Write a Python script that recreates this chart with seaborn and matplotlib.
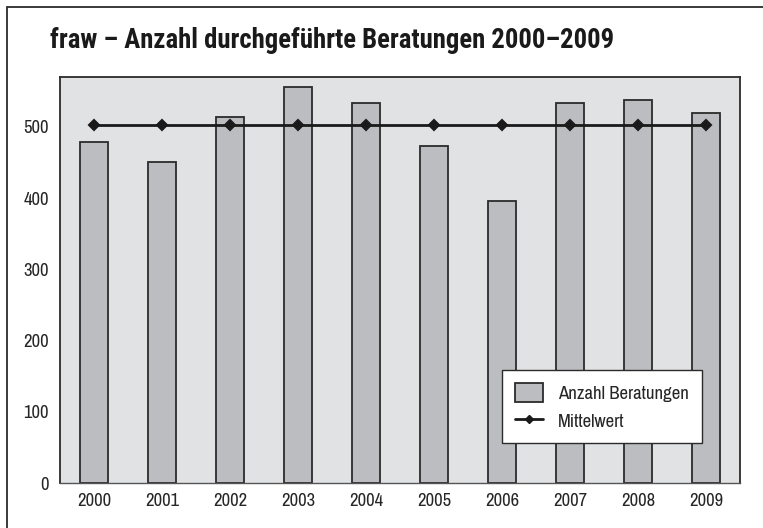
import matplotlib
matplotlib.use("Agg")
import matplotlib.pyplot as plt
import seaborn as sns
from matplotlib import font_manager
from matplotlib.patches import Patch, Rectangle
from matplotlib.lines import Line2D

# data
jahre = ["2000", "2001", "2002", "2003", "2004", "2005", "2006", "2007", "2008", "2009"]
beratungen = [479, 450, 514, 556, 533, 473, 396, 533, 538, 519]
mittelwert = [502, 502, 502, 502, 502, 502, 502, 502, 502, 502]

titel = "fraw \u2013 Anzahl durchgeführte Beratungen 2000\u20132009"

bar_color = "#bcbdc0"
bg_color = "#e1e2e4"
dark = "#2b2b2b"

# pick narrow fonts (a bold one for the title)
cands = ["Archivo Narrow", "Roboto Condensed", "PT Sans Narrow", "Fira Sans Condensed",
         "IBM Plex Sans Condensed", "Pragati Narrow", "Encode Sans Condensed",
         "Asap Condensed", "Liberation Sans"]
weights = {}
for f in font_manager.fontManager.ttflist:
    weights.setdefault(f.name, set()).add(int(f.weight) if str(f.weight).isdigit() else 400)
text_fam = next((c for c in cands if c in weights), "DejaVu Sans")
title_fam = next((c for c in cands if c in weights and max(weights[c]) >= 700), "DejaVu Sans")

sns.set_style("white")
plt.rcParams['font.family'] = [text_fam, 'DejaVu Sans']

fig = plt.figure(figsize=(7.63, 5.28), dpi=100)
renderer = fig.canvas.get_renderer()


def fit_size(text, family, weight, width_px, start=12.0):
    t = fig.text(0, 0, text, fontsize=start, family=[family, 'DejaVu Sans'], fontweight=weight)
    w = t.get_window_extent(renderer).width
    t.remove()
    return start * width_px / w


lab = fit_size("Anzahl Beratungen", text_fam, "normal", 131)
title_size = fit_size(titel, title_fam, "bold", 565)

ax = fig.add_axes([60 / 763, 1 - 483 / 528, 680 / 763, 406 / 528])
ax.set_facecolor(bg_color)

# outer frame (runs off the right and bottom edge)
fig.patches.append(Rectangle((7 / 763, -0.1), 1.2, 1 - 7 / 528 + 0.1,
                             transform=fig.transFigure, fill=False,
                             edgecolor=dark, linewidth=1.3))

sns.barplot(x=jahre, y=beratungen, color=bar_color, edgecolor=dark,
            linewidth=1.3, width=0.4, saturation=1, ax=ax)
sns.pointplot(x=jahre, y=mittelwert, color="#1a1a1a", markers="D",
              markersize=5, linewidth=2, ax=ax)

ax.set_xlim(-0.5, 9.5)
ax.set_ylim(0, 570)
ax.set_yticks([0, 100, 200, 300, 400, 500])
ax.set_xticks(range(10))
ax.set_xticklabels(jahre)
ax.set_xticks([i - 0.5 for i in range(11)], minor=True)
ax.tick_params(axis="x", which="major", length=0, pad=7, labelsize=lab)
ax.tick_params(axis="x", which="minor", length=4, width=1, color=dark,
               direction="out")
ax.tick_params(axis="y", length=4, width=1, color=dark, direction="out",
               pad=4, labelsize=lab)
ax.set_xlabel("")
ax.set_ylabel("")

for side in ["left", "right", "top"]:
    ax.spines[side].set_color(dark)
    ax.spines[side].set_linewidth(1.3)
ax.spines["bottom"].set_color("#555555")
ax.spines["bottom"].set_linewidth(1.0)

handles = [
    Patch(facecolor=bar_color, edgecolor=dark, linewidth=1.3),
    Line2D([0], [0], color="#1a1a1a", linewidth=2, marker="D", markersize=4),
]
leg = ax.legend(handles, ["Anzahl Beratungen", "Mittelwert"],
                loc="lower left", bbox_to_anchor=(442 / 680, 40 / 406),
                frameon=True, fancybox=False, framealpha=1, fontsize=lab,
                borderpad=0.7, handlelength=1.5, handleheight=1.2,
                handletextpad=0.8, labelspacing=0.45, borderaxespad=0)
leg.get_frame().set_edgecolor(dark)
leg.get_frame().set_linewidth(1.0)

fig.text(50 / 763, 1 - 48 / 528, titel, family=[title_fam, 'DejaVu Sans'],
         fontsize=title_size, fontweight="bold", va="baseline", ha="left",
         color="#1a1a1a")

fig.savefig("out.png", dpi=100)
